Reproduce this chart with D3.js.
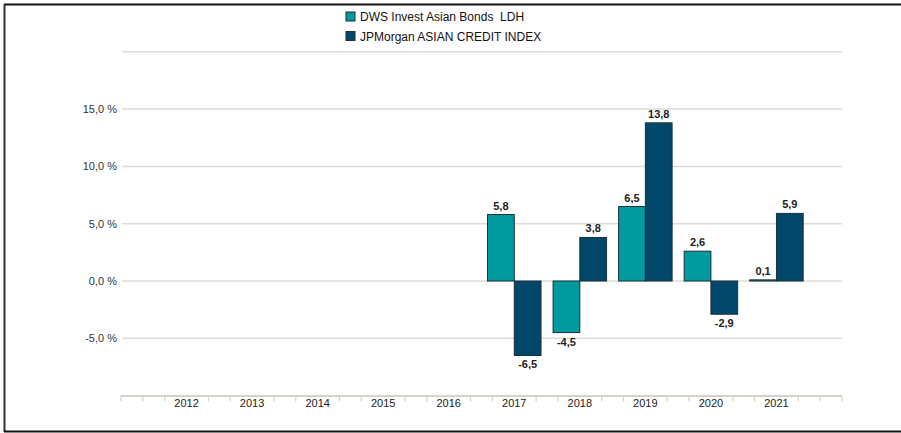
<!DOCTYPE html>
<html>
<head>
<meta charset="utf-8">
<script src="https://cdn.jsdelivr.net/npm/d3@7"></script>
<style>
  body { margin: 0; background: #fff; }
  svg { display: block; font-family: "Liberation Sans", Arial, sans-serif; }
  text { white-space: pre; }
</style>
</head>
<body>
<svg id="chart" width="901" height="433"></svg>
<script>
const years = ["2012", "2013", "2014", "2015", "2016", "2017", "2018", "2019", "2020", "2021"],
    seriesNames = ["DWS Invest Asian Bonds  LDH", "JPMorgan ASIAN CREDIT INDEX"],
    seriesColors = ["#009b9e", "#00476a"],
    dwsValues = [null, null, null, null, null, 5.8, -4.5, 6.5, 2.6, 0.1],
    jpmValues = [null, null, null, null, null, -6.5, 3.8, 13.8, -2.9, 5.9],
    yTicks = [-5, 0, 5, 10, 15],
    yGrid = [-5, 0, 5, 10, 15, 20];

const svg = d3.select("#chart"),
    plotLeft = 121, plotRight = 842, plotTop = 51.8, plotBottom = 395.6;

const x = d3.scaleBand().domain(years).range([plotLeft, plotRight]).paddingInner(0).paddingOuter(0.5),
    groupW = x.bandwidth() * 0.816,
    x1 = d3.scaleBand().domain([0, 1]).range([0, groupW]),
    y = d3.scaleLinear().domain([-10, 20]).range([plotBottom, plotTop]),
    fmt = v => d3.format(".1f")(v).replace(".", ",").replace("\u2212", "-");

// frame (top, left, bottom)
svg.append("line").attr("x1", 4).attr("x2", 901).attr("y1", 4.5).attr("y2", 4.5)
    .attr("stroke", "#111").attr("stroke-width", 2);
svg.append("line").attr("x1", 4.5).attr("x2", 4.5).attr("y1", 4).attr("y2", 432)
    .attr("stroke", "#333").attr("stroke-width", 2);
svg.append("line").attr("x1", 4).attr("x2", 901).attr("y1", 431.5).attr("y2", 431.5)
    .attr("stroke", "#111").attr("stroke-width", 2);

// gridlines
svg.append("g").selectAll("line")
    .data(yGrid)
    .enter().append("line")
    .attr("x1", plotLeft + 1).attr("x2", plotRight)
    .attr("y1", d => y(d)).attr("y2", d => y(d))
    .attr("stroke", "#dedbd4").attr("stroke-width", 1.5);

// y labels
svg.append("g").selectAll("text")
    .data(yTicks)
    .enter().append("text")
    .attr("x", 117).attr("y", d => y(d) + 4)
    .attr("text-anchor", "end")
    .attr("font-size", 11)
    .attr("fill", "#333")
    .text(d => fmt(d) + " %");

// x axis
svg.append("line").attr("x1", plotLeft).attr("x2", plotRight).attr("y1", plotBottom + 0.5).attr("y2", plotBottom + 0.5)
    .attr("stroke", "#d6d2c8").attr("stroke-width", 2);
const minor = x.step() / 3,
    lastK = years.length * 3 + 3,
    tickPos = d3.range(0, lastK + 1).filter(k => k % 3 !== 0 || k === 0 || k === lastK)
        .map(k => plotLeft + k * minor);
svg.append("g").selectAll("line")
    .data(tickPos)
    .enter().append("line")
    .attr("x1", d => d).attr("x2", d => d)
    .attr("y1", plotBottom).attr("y2", plotBottom + 6)
    .attr("stroke", "#d6d2c8").attr("stroke-width", 1.2);
svg.append("g").selectAll("text")
    .data(years)
    .enter().append("text")
    .attr("x", d => x(d) + x.bandwidth() / 2)
    .attr("y", plotBottom + 11)
    .attr("text-anchor", "middle")
    .attr("font-size", 11)
    .attr("fill", "#222")
    .text(d => d);

// bars
const rows = [];
years.forEach((yr, i) => {
    [dwsValues[i], jpmValues[i]].forEach((v, s) => {
        if (v !== null) rows.push({ year: yr, s: s, v: v });
    });
});
const gx = d => x(d.year) + (x.bandwidth() - groupW) / 2 + x1(d.s);

svg.append("g").selectAll("rect")
    .data(rows)
    .enter().append("rect")
    .attr("x", gx)
    .attr("width", x1.bandwidth())
    .attr("y", d => Math.min(y(d.v), y(0)))
    .attr("height", d => Math.max(Math.abs(y(d.v) - y(0)), 1))
    .attr("fill", d => seriesColors[d.s])
    .attr("stroke", "#1b3038").attr("stroke-width", 1);

svg.append("g").selectAll("text")
    .data(rows)
    .enter().append("text")
    .attr("x", d => gx(d) + x1.bandwidth() / 2)
    .attr("y", d => d.v >= 0 ? y(d.v) - 5 : y(d.v) + 13)
    .attr("text-anchor", "middle")
    .attr("font-size", 11)
    .attr("font-weight", "bold")
    .attr("fill", "#222")
    .text(d => fmt(d.v));

// legend
const lg = svg.append("g").selectAll("g")
    .data(seriesNames)
    .enter().append("g")
    .attr("transform", (d, i) => `translate(346,${12 + i * 19.5})`);
lg.append("rect").attr("width", 9).attr("height", 9)
    .attr("fill", (d, i) => seriesColors[i]).attr("stroke", "#1b3038").attr("stroke-width", 1);
lg.append("text").attr("x", 14).attr("y", 9)
    .attr("font-size", 12).attr("fill", "#111")
    .text(d => d);
</script>
</body>
</html>
